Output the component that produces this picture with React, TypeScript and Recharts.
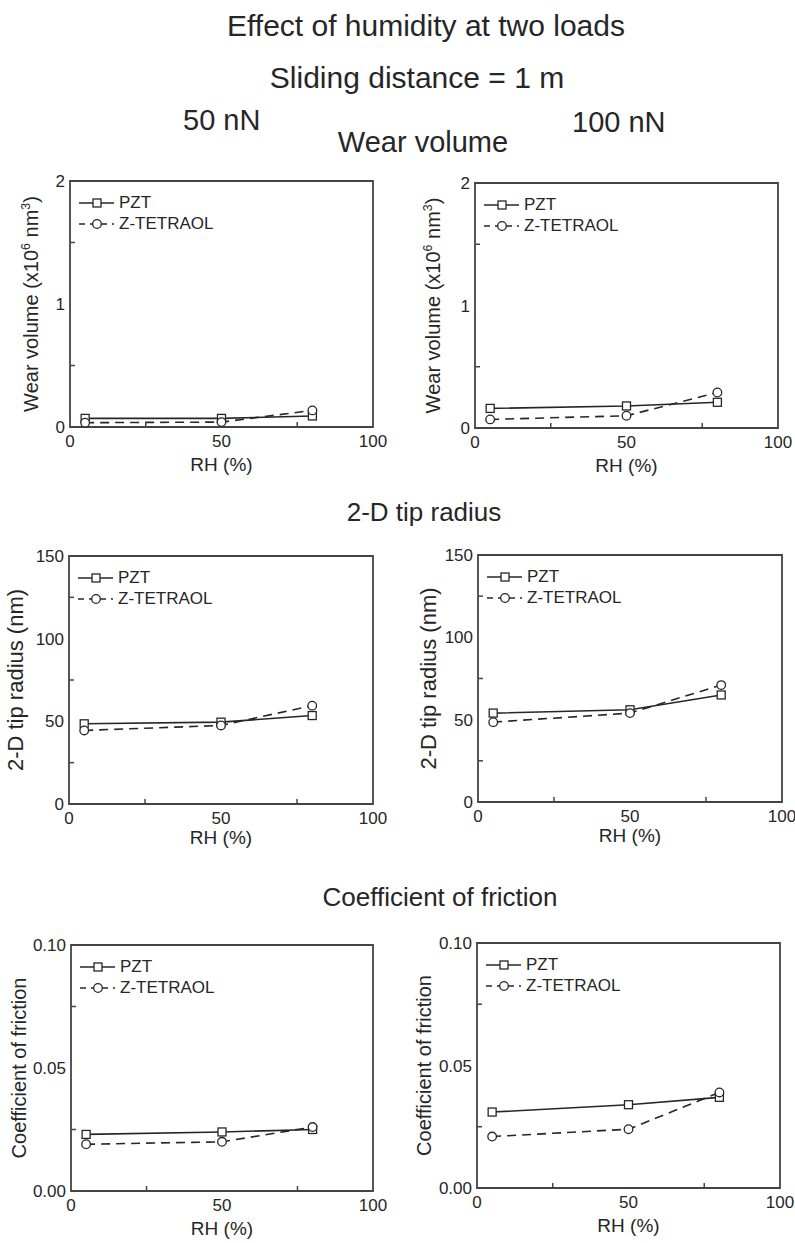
import React from 'react';
import { LineChart, Line, XAxis, YAxis, ReferenceArea, Legend } from 'recharts';

// relative humidity (%) for every panel
const rh = [5, 50, 80];
const xTicks = [0, 25, 50, 75, 100];
const xMajor = [0, 50, 100];
const seriesNames = ['PZT', 'Z-TETRAOL'];

// wear volume (x10^6 nm^3)
const wear50Pzt = [0.07, 0.07, 0.09];
const wear50Tet = [0.035, 0.04, 0.135];
const wear100Pzt = [0.16, 0.18, 0.21];
const wear100Tet = [0.07, 0.1, 0.29];
const wearTicks = [0, 0.5, 1, 1.5, 2];
const wearMajor = [0, 1, 2];

// 2-D tip radius (nm)
const tip50Pzt = [48.5, 49.5, 53.5];
const tip50Tet = [44.5, 47.5, 59.5];
const tip100Pzt = [54, 56, 65];
const tip100Tet = [48.5, 54, 71];
const tipTicks = [0, 25, 50, 75, 100, 125, 150];
const tipMajor = [0, 50, 100, 150];

// coefficient of friction
const cof50Pzt = [0.023, 0.024, 0.025];
const cof50Tet = [0.019, 0.02, 0.026];
const cof100Pzt = [0.031, 0.034, 0.037];
const cof100Tet = [0.021, 0.024, 0.039];
const cofTicks = [0, 0.025, 0.05, 0.075, 0.1];
const cofMajor = [0, 0.05, 0.1];

const FONT = '"Liberation Sans", Arial, Helvetica, sans-serif';
const INK = '#262626';
const FRAME = '#444';

const ML = 70;
const MT = 20;
const MR = 20;
const MB = 60;
const X_MARGIN = 8;
const Y_MARGIN = 5;

const SquareDot = (props: any) => {
  const { cx, cy, index } = props;
  return <rect key={`sq-${index}`} x={cx - 4} y={cy - 4} width={8} height={8} fill="#fff" stroke={INK} strokeWidth={1.3} />;
};

const CircleDot = (props: any) => {
  const { cx, cy, index } = props;
  return <circle key={`ci-${index}`} cx={cx} cy={cy} r={4.3} fill="#fff" stroke={INK} strokeWidth={1.3} />;
};

const renderLegend = () => (
  <div style={{ fontFamily: FONT, fontSize: 17, color: INK, whiteSpace: 'nowrap', width: 'max-content' }}>
    {seriesNames.map((name, i) => (
      <div key={name} style={{ display: 'flex', alignItems: 'center', height: 21 }}>
        <svg width={35} height={14} style={{ flexShrink: 0, display: 'block' }}>
          <line x1={0} x2={35} y1={7} y2={7} stroke={INK} strokeWidth={1.5} strokeDasharray={i === 1 ? '6 5' : undefined} />
          {i === 0 ? (
            <rect x={14} y={3} width={8} height={8} fill="#fff" stroke={INK} strokeWidth={1.3} />
          ) : (
            <circle cx={18} cy={7} r={4.3} fill="#fff" stroke={INK} strokeWidth={1.3} />
          )}
        </svg>
        <span style={{ marginLeft: 5, lineHeight: '17px' }}>{name}</span>
      </div>
    ))}
  </div>
);

type LabelPart = { t: string; sup?: boolean };

type PanelProps = {
  left: number;
  top: number;
  w: number;
  h: number;
  pzt: number[];
  tet: number[];
  yMax: number;
  yTicks: number[];
  yMajor: number[];
  yFmt: (v: number) => string;
  yLabel: LabelPart[];
  yLabelSize: number;
  yLabelOff: number;
  xLabelOff: number;
};

const Panel = (p: PanelProps) => {
  const data = rh.map((x, i) => ({ rh: x, pzt: p.pzt[i], tet: p.tet[i] }));

  const xTick = (props: any) => {
    const { x, y, payload } = props;
    const v = payload.value;
    if (!xMajor.includes(v)) {
      const y0 = y - X_MARGIN;
      return <line x1={x} x2={x} y1={y0} y2={y0 - 5} stroke={FRAME} strokeWidth={1.5} />;
    }
    return (
      <text x={x} y={y} dy="0.71em" textAnchor="middle" fontFamily={FONT} fontSize={17} fill={INK}>
        {v}
      </text>
    );
  };

  const yTick = (props: any) => {
    const { x, y, payload } = props;
    const v = payload.value;
    if (!p.yMajor.some((m) => Math.abs(m - v) < 1e-9)) {
      const x0 = x + Y_MARGIN;
      return <line x1={x0} x2={x0 + 5} y1={y} y2={y} stroke={FRAME} strokeWidth={1.5} />;
    }
    return (
      <text x={x} y={y} dy="0.36em" textAnchor="end" fontFamily={FONT} fontSize={17} fill={INK}>
        {p.yFmt(v)}
      </text>
    );
  };

  const xLabel = (lp: any) => {
    const vb = lp.viewBox;
    return (
      <text x={vb.x + vb.width / 2} y={vb.y + p.xLabelOff} textAnchor="middle" fontFamily={FONT} fontSize={19} fill={INK}>
        RH (%)
      </text>
    );
  };

  const yLabel = (lp: any) => {
    const vb = lp.viewBox;
    const lx = vb.x + vb.width - p.yLabelOff;
    const ly = vb.y + vb.height / 2;
    let shift = 0;
    return (
      <text
        x={lx}
        y={ly}
        transform={`rotate(-90, ${lx}, ${ly})`}
        textAnchor="middle"
        fontFamily={FONT}
        fontSize={p.yLabelSize}
        fill={INK}
      >
        {p.yLabel.map((part, i) => {
          let dy = 0;
          if (part.sup && shift === 0) {
            dy = -8;
            shift = -8;
          } else if (!part.sup && shift !== 0) {
            dy = 8;
            shift = 0;
          }
          return (
            <tspan key={i} dy={dy} fontSize={part.sup ? p.yLabelSize * 0.62 : p.yLabelSize}>
              {part.t}
            </tspan>
          );
        })}
      </text>
    );
  };

  return (
    <div style={{ position: 'absolute', left: p.left - ML, top: p.top - MT }}>
      <LineChart
        width={p.w + ML + MR}
        height={p.h + MT + MB}
        data={data}
        margin={{ top: MT, right: MR, bottom: 0, left: 0 }}
      >
        <XAxis
          dataKey="rh"
          type="number"
          domain={[0, 100]}
          ticks={xTicks}
          interval={0}
          height={MB}
          tickSize={0}
          tickMargin={X_MARGIN}
          tickLine={false}
          axisLine={false}
          tick={xTick}
          label={{ content: xLabel }}
        />
        <YAxis
          type="number"
          domain={[0, p.yMax]}
          ticks={p.yTicks}
          interval={0}
          width={ML}
          tickSize={0}
          tickMargin={Y_MARGIN}
          tickLine={false}
          axisLine={false}
          tick={yTick}
          label={{ content: yLabel }}
        />
        <ReferenceArea
          x1={0}
          x2={100}
          y1={0}
          y2={p.yMax}
          fill="none"
          fillOpacity={0}
          stroke={FRAME}
          strokeWidth={1.8}
          ifOverflow="visible"
        />
        <Legend
          layout="horizontal"
          verticalAlign="middle"
          align="left"
          content={renderLegend}
          wrapperStyle={{ left: ML + 9, top: MT + 11, width: 0, height: 0, overflow: 'visible' }}
        />
        <Line
          name={seriesNames[0]}
          dataKey="pzt"
          type="linear"
          stroke={INK}
          strokeWidth={1.6}
          dot={SquareDot}
          activeDot={false}
          isAnimationActive={false}
        />
        <Line
          name={seriesNames[1]}
          dataKey="tet"
          type="linear"
          stroke={INK}
          strokeWidth={1.6}
          strokeDasharray="9 6"
          dot={CircleDot}
          activeDot={false}
          isAnimationActive={false}
        />
      </LineChart>
    </div>
  );
};

const wearLabel: LabelPart[] = [{ t: 'Wear volume (x10' }, { t: '6', sup: true }, { t: ' nm' }, { t: '3', sup: true }, { t: ')' }];
const tipLabel: LabelPart[] = [{ t: '2-D tip radius (nm)' }];
const cofLabel: LabelPart[] = [{ t: 'Coefficient of friction' }];

const fmtInt = (v: number) => String(v);
const fmtCof = (v: number) => v.toFixed(2);

const App = () => {
  return (
    <div style={{ position: 'absolute', left: 0, top: 0, width: 795, height: 1243, background: '#fff' }}>
      <svg width={795} height={1243} style={{ position: 'absolute', left: 0, top: 0 }}>
        <g fontFamily={FONT} fill={INK}>
          <text x={426} y={36} fontSize={30} textAnchor="middle">Effect of humidity at two loads</text>
          <text x={417} y={88} fontSize={30} textAnchor="middle">Sliding distance = 1 m</text>
          <text x={183} y={130} fontSize={29}>50 nN</text>
          <text x={572} y={132} fontSize={29}>100 nN</text>
          <text x={423} y={152} fontSize={29} textAnchor="middle">Wear volume</text>
          <text x={424} y={521} fontSize={26} textAnchor="middle">2-D tip radius</text>
          <text x={440} y={906} fontSize={26} textAnchor="middle">Coefficient of friction</text>
        </g>
      </svg>

      <Panel left={70} top={181} w={303} h={246} pzt={wear50Pzt} tet={wear50Tet} yMax={2} yTicks={wearTicks} yMajor={wearMajor} yFmt={fmtInt} yLabel={wearLabel} yLabelSize={20} yLabelOff={32} xLabelOff={44} />
      <Panel left={475} top={183} w={303} h={245} pzt={wear100Pzt} tet={wear100Tet} yMax={2} yTicks={wearTicks} yMajor={wearMajor} yFmt={fmtInt} yLabel={wearLabel} yLabelSize={20} yLabelOff={35} xLabelOff={44} />

      <Panel left={69} top={556} w={304} h={248} pzt={tip50Pzt} tet={tip50Tet} yMax={150} yTicks={tipTicks} yMajor={tipMajor} yFmt={fmtInt} yLabel={tipLabel} yLabelSize={22} yLabelOff={46} xLabelOff={40} />
      <Panel left={478} top={555} w={304} h={247} pzt={tip100Pzt} tet={tip100Tet} yMax={150} yTicks={tipTicks} yMajor={tipMajor} yFmt={fmtInt} yLabel={tipLabel} yLabelSize={22} yLabelOff={42} xLabelOff={40} />

      <Panel left={71} top={945} w={302} h={246} pzt={cof50Pzt} tet={cof50Tet} yMax={0.1} yTicks={cofTicks} yMajor={cofMajor} yFmt={fmtCof} yLabel={cofLabel} yLabelSize={20} yLabelOff={45} xLabelOff={44} />
      <Panel left={477} top={943} w={303} h={245} pzt={cof100Pzt} tet={cof100Tet} yMax={0.1} yTicks={cofTicks} yMajor={cofMajor} yFmt={fmtCof} yLabel={cofLabel} yLabelSize={20} yLabelOff={46} xLabelOff={44} />
    </div>
  );
};

export default App;
